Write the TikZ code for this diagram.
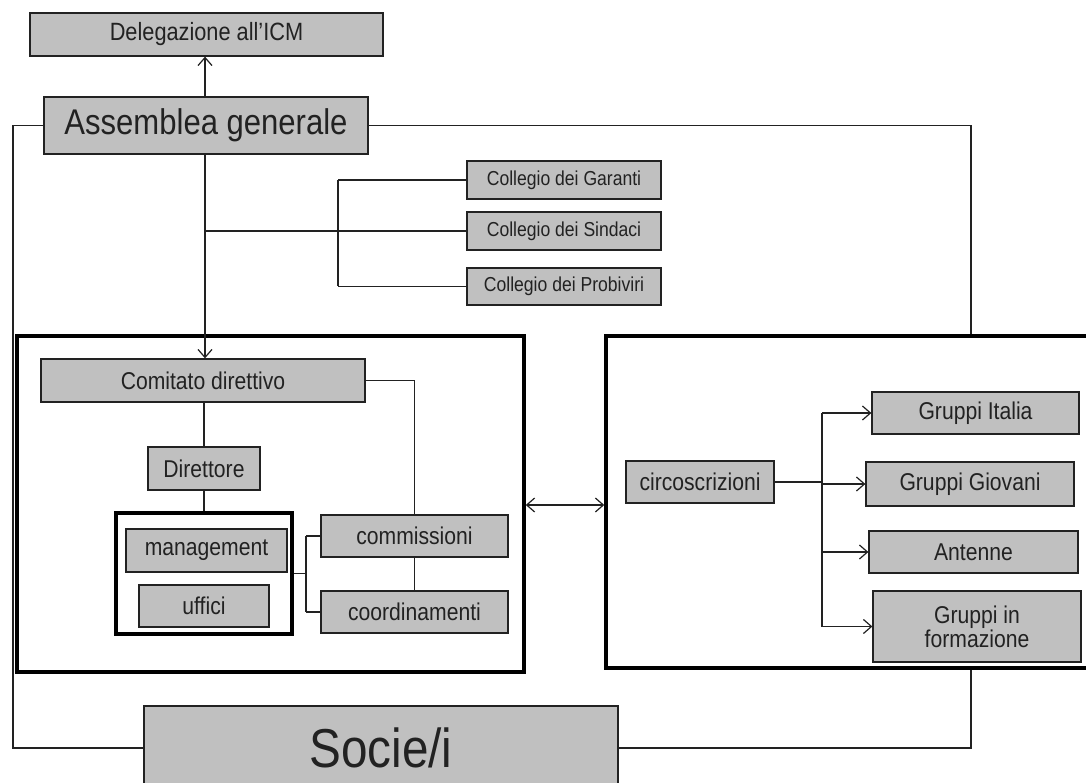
\documentclass[tikz,border=0pt]{standalone}
\usepackage{fontspec}
\setmainfont{Liberation Sans}[FakeStretch=0.87]
\usetikzlibrary{arrows.meta}
\definecolor{boxgray}{HTML}{C0C0C0}
\definecolor{ink}{HTML}{222222}
\begin{document}
\begin{tikzpicture}[x=1pt,y=-1pt,
  gbox/.style={draw=ink, line width=1.3pt, fill=boxgray, inner sep=0pt, text=ink, align=center},
  fsN/.style={font=\fontsize{24.3}{26}\selectfont},
  fsS/.style={font=\fontsize{20.2}{22}\selectfont},
  frame/.style={draw=black, line width=3.5pt, inner sep=0pt},
  conn/.style={draw=ink, line width=1.2pt},
  arr/.style={conn, -{Straight Barb[length=8pt,width=14pt,line width=1.2pt]}},
  darr/.style={conn, {Straight Barb[length=8pt,width=14pt,line width=1.2pt]}-{Straight Barb[length=8pt,width=14pt,line width=1.2pt]}}
]
\useasboundingbox[fill=white] (0,0) rectangle (1086,783);

% frames
\node[frame, minimum width=507pt, minimum height=336pt] (lframe) at (270.5,504) {};
\node[frame, minimum width=489pt, minimum height=332pt] (rframe) at (850.5,502) {};
\node[frame, minimum width=176pt, minimum height=121pt] (mgframe) at (204,573.5) {};

% top
\node[gbox, font=\fontsize{25}{27}\selectfont, minimum width=353pt, minimum height=43pt] (del) at (206.5,34.5) {Delegazione all'ICM};
\node[gbox, font=\fontsize{35.7}{38}\selectfont, minimum width=324pt, minimum height=57pt] (ass) at (206,125.5) {Assemblea generale};

% collegi
\node[gbox, fsS, minimum width=194pt, minimum height=38pt] (gar) at (564,180) {Collegio dei Garanti};
\node[gbox, fsS, minimum width=194pt, minimum height=38pt] (sin) at (564,231) {Collegio dei Sindaci};
\node[gbox, fsS, minimum width=194pt, minimum height=37pt] (pro) at (564,286.5) {Collegio dei Probiviri};

% left frame content
\node[gbox, fsN, minimum width=324pt, minimum height=43pt] (com) at (203,380.5) {Comitato direttivo};
\node[gbox, fsN, minimum width=112pt, minimum height=43pt] (dir) at (204,468.5) {Direttore};
\node[gbox, fsN, minimum width=161pt, minimum height=43pt] (mgmt) at (206.5,550.5) {management};
\node[gbox, fsN, minimum width=130pt, minimum height=42pt] (uff) at (204,606) {uffici};
\node[gbox, fsN, minimum width=187pt, minimum height=42pt] (comm) at (414.5,536) {commissioni};
\node[gbox, fsN, minimum width=187pt, minimum height=42pt] (coord) at (414.5,612) {coordinamenti};

% right frame content
\node[gbox, fsN, minimum width=148pt, minimum height=42pt] (circ) at (700,482) {circoscrizioni};
\node[gbox, fsN, minimum width=207pt, minimum height=42pt] (gi) at (975.5,413) {Gruppi Italia};
\node[gbox, fsN, minimum width=208pt, minimum height=44pt] (gg) at (970,484) {Gruppi Giovani};
\node[gbox, fsN, minimum width=209pt, minimum height=42pt] (ant) at (973.5,552) {Antenne};
\node[gbox, fsN, minimum width=208pt, minimum height=71pt] (gf) at (977,626.5) {Gruppi in\\[-2pt]formazione};

% bottom
\node[gbox, font=\fontsize{54.8}{60}\selectfont, minimum width=474pt, minimum height=84pt] (soc) at (381,748) {Socie/i};

% connectors
\coordinate (mx) at (205,0);
\draw[arr] (mx |- ass.north) -- (mx |- del.south);
\draw[arr] (mx |- ass.south) -- (mx |- com.north);
\coordinate (cbr) at (205,231);
\coordinate (cbus) at (338,0);
\draw[conn] (cbr) -- (cbus |- cbr);
\draw[conn] (cbus |- gar.west) -- (cbus |- pro.west);
\draw[conn] (cbus |- gar.west) -- (gar.west);
\draw[conn] (cbus |- sin.west) -- (sin.west);
\draw[conn] (cbus |- pro.west) -- (pro.west);

\coordinate (rx) at (971,0);
\draw[conn] (ass.east) -- (rx |- ass.east) -- (rx |- rframe.north);
\coordinate (lx) at (13,0);
\draw[conn] (ass.west) -- (lx |- ass.west) -- (lx |- soc.west) -- (soc.west);
\draw[conn] (soc.east) -- (rx |- soc.east) -- (rx |- rframe.south);

\draw[conn] (com.east) -- (comm.north |- com.east) -- (comm.north);
\draw[conn] (comm.south) -- (coord.north);
\draw[conn] (com.south -| dir.north) -- (dir.north);
\draw[conn] (dir.south) -- (dir.south |- mgframe.north);
\coordinate (mbus) at (306,0);
\draw[conn] (mgframe.east) -- (mbus |- mgframe.east);
\draw[conn] (mbus |- comm.west) -- (mbus |- coord.west);
\draw[conn] (mbus |- comm.west) -- (comm.west);
\draw[conn] (mbus |- coord.west) -- (coord.west);

\coordinate (dy) at (0,505);
\draw[darr] (lframe.east |- dy) -- (rframe.west |- dy);

\coordinate (gbus) at (822,0);
\draw[conn] (circ.east) -- (gbus |- circ.east);
\draw[conn] (gbus |- gi.west) -- (gbus |- gf.west);
\draw[line width=2.2pt, draw=ink] (gbus |- circ.east) -- (gbus |- ant.west);
\draw[arr] (gbus |- gi.west) -- (gi.west);
\draw[arr] (gbus |- gg.west) -- (gg.west);
\draw[arr] (gbus |- ant.west) -- (ant.west);
\draw[arr] (gbus |- gf.west) -- (gf.west);
\end{tikzpicture}
\end{document}
